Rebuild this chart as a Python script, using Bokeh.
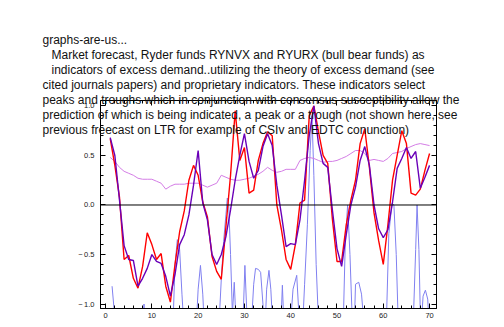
from bokeh.plotting import figure
from bokeh.models import (Range1d, LinearAxis, SingleIntervalTicker, Label, Span,
                          CustomJSTickFormatter, CustomLabelingPolicy)
from bokeh.embed import file_html
from bokeh.resources import INLINE

# ---------------- data ----------------
x = list(range(1, 71))

red = [0.67, 0.40, 0.08, -0.55, -0.51, -0.74, -0.84, -0.62, -0.28, -0.40,
       -0.55, -0.49, -0.82, -0.98, -0.60, -0.27, -0.06, 0.25, 0.40, 0.30,
       0.03, -0.12, -0.52, -0.67, -0.75, -0.22, 0.30, 0.95, 0.45, 0.58,
       0.12, 0.15, 0.45, 0.62, 0.74, 0.70, 0.00, -0.25, -0.55, -0.65,
       -0.40, 0.02, 0.05, 0.90, 1.00, 0.74, 0.50, 0.42, -0.14, -0.57,
       -0.57, -0.20, 0.05, 0.25, 0.62, 0.77, 0.38, -0.08, -0.36, -0.60,
       -0.20, 0.25, 0.50, 0.75, 0.62, 0.12, 0.10, 0.16, 0.35, 0.52]

purple = [0.68, 0.50, 0.05, -0.41, -0.55, -0.56, -0.82, -0.74, -0.64, -0.50,
          -0.57, -0.59, -0.72, -0.92, -0.70, -0.40, -0.30, -0.10, 0.20, 0.55,
          0.02, -0.15, -0.50, -0.60, -0.50, -0.32, -0.05, 0.25, 0.50, 0.72,
          0.44, 0.27, 0.35, 0.59, 0.72, 0.60, 0.20, -0.10, -0.42, -0.39,
          -0.40, -0.15, 0.25, 0.70, 1.00, 0.62, 0.42, 0.38, -0.05, -0.44,
          -0.62, -0.30, 0.00, 0.18, 0.45, 0.59, 0.40, 0.00, -0.24, -0.33,
          -0.25, 0.03, 0.37, 0.47, 0.58, 0.47, 0.54, 0.17, 0.28, 0.40]

orchid = [0.48, 0.44, 0.38, 0.34, 0.32, 0.30, 0.27, 0.26, 0.26, 0.26,
          0.24, 0.22, 0.16, 0.19, 0.21, 0.21, 0.21, 0.22, 0.22, 0.22,
          0.20, 0.18, 0.20, 0.22, 0.30, 0.28, 0.26, 0.25, 0.25, 0.26,
          0.27, 0.29, 0.31, 0.34, 0.38, 0.35, 0.33, 0.34, 0.36, 0.36,
          0.36, 0.45, 0.47, 0.48, 0.47, 0.45, 0.43, 0.44, 0.44, 0.45,
          0.47, 0.49, 0.52, 0.55, 0.55, 0.52, 0.45, 0.46, 0.45, 0.44,
          0.47, 0.52, 0.53, 0.54, 0.57, 0.59, 0.61, 0.62, 0.61, 0.60]

blue_x = [1.4, 2.3, 7.9, 8.3, 8.7, 14.5, 15.0, 15.5, 16.0, 16.5, 17.0,
          19.5, 20.0, 20.5, 21.0, 21.4, 24.4, 25.0, 25.5, 26.0, 26.3, 26.6,
          27.0, 27.4, 27.8, 28.3, 29.6, 30.1, 30.7, 31.4, 32.0, 32.4, 33.0,
          33.5, 34.0, 34.4, 34.8, 35.3, 35.7, 36.2, 37.8, 38.2, 38.6, 39.8,
          40.5, 41.3, 42.0, 42.5, 43.0, 43.6, 44.2, 44.6, 45.0, 45.5, 46.1,
          51.3, 51.8, 52.3, 52.8, 53.4, 53.7, 54.0, 54.7, 55.3, 56.0, 60.6,
          61.2, 61.9, 62.3, 62.8, 63.3, 66.4, 67.0, 67.3, 67.7, 68.1, 68.6,
          69.1, 69.6, 70.0]
blue_y = [-0.82, -1.30, -1.30, -1.00, -1.30, -1.30, -0.60, -0.35, -0.45, -0.90, -1.30,
          -1.30, -0.85, -0.61, -0.90, -1.30, -1.30, -0.75, -0.37, -0.10, 0.07, 0.00,
          -0.50, -1.10, -0.78, -1.30, -1.30, -0.61, -1.30, -1.30, -0.80, -0.64, -0.65,
          -0.68, -1.00, -1.30, -0.85, -0.66, -0.85, -1.30, -1.30, -0.81, -1.30, -1.30,
          -0.85, -0.71, -1.30, -1.30, -0.80, -0.20, 0.55, 0.90, 0.30, -0.60, -1.30,
          -1.30, -0.36, 0.00, -0.50, -1.30, -1.30, -0.80, -0.78, -0.90, -1.30, -1.30,
          -0.29, 0.02, 0.00, -0.50, -1.30, -1.30, -0.45, 0.00, -0.45, -1.30, -0.92,
          -0.86, -0.95, -1.30]

title_lines = [
    "graphs-are-us...",
    "Market forecast, Ryder funds RYNVX and RYURX (bull bear funds) as",
    "indicators of excess demand..utilizing the theory of excess demand (see",
    "cited journals papers) and proprietary indicators. These indicators select",
    "peaks and troughs which in conjunction with consensus susceptibility allow the",
    "prediction of which is being indicated, a peak or a trough (not shown here, see",
    "previous freecast on LTR for example of CSIv and EDTC conunction)",
]
title_indent = [0, 1, 1, 0, 0, 0, 0]

W, H = 504, 327

# ---------------- main plot ----------------
p = figure(width=W, height=H, output_backend="svg", toolbar_location=None,
           x_range=Range1d(-1.1, 71.5), y_range=Range1d(-1.045, 1.055),
           min_border_left=100, min_border_right=68, min_border_top=100,
           min_border_bottom=19)
p.background_fill_color = "white"
p.border_fill_color = "white"
p.outline_line_color = "black"
p.outline_line_width = 1
p.xgrid.visible = False
p.ygrid.visible = False

p.add_layout(Span(location=0, dimension="width", line_color="black", line_width=1))

p.line(blue_x, blue_y, line_color="#8080F0", line_width=1)
p.line(x, orchid, line_color="#D47DE6", line_width=1)
p.line(x, red, line_color="#FF0000", line_width=1.4)
p.line(x, purple, line_color="#6A00B8", line_width=1.4)

fmt_y = CustomJSTickFormatter(code="""
const s = Math.abs(tick).toFixed(1);
return tick < 0 ? "\u2212\u2009" + s : s;
""")
no_labels = CustomLabelingPolicy(code="""
for (const i of indices) { indices.unset(i) }
return indices
""")


def style_axis(ax):
    ax.axis_line_color = "black"
    ax.major_tick_in = 5
    ax.major_tick_out = 0
    ax.minor_tick_in = 3
    ax.minor_tick_out = 0
    ax.major_tick_line_color = "black"
    ax.minor_tick_line_color = "black"
    ax.major_label_text_font = "Liberation Sans"
    ax.major_label_text_font_size = "7.5px"
    ax.major_label_text_color = "#1a1a1a"


p.xaxis.ticker = SingleIntervalTicker(interval=10, num_minor_ticks=5)
p.yaxis.ticker = SingleIntervalTicker(interval=0.5, num_minor_ticks=5)
p.yaxis.formatter = fmt_y
style_axis(p.xaxis[0])
style_axis(p.yaxis[0])
p.xaxis.major_label_standoff = 4
p.yaxis.major_label_standoff = 6

top = LinearAxis(ticker=SingleIntervalTicker(interval=10, num_minor_ticks=5),
                 major_label_policy=no_labels)
right = LinearAxis(ticker=SingleIntervalTicker(interval=0.5, num_minor_ticks=5),
                   major_label_policy=no_labels)
style_axis(top)
style_axis(right)
p.add_layout(top, "above")
p.add_layout(right, "right")

# ---------------- transparent overlay carrying the heading text ----------------
ov = figure(width=W, height=H, output_backend="svg", toolbar_location=None,
            x_range=Range1d(0, W), y_range=Range1d(H, 0),
            x_axis_location=None, y_axis_location=None, min_border=0)
ov.grid.visible = False
ov.outline_line_color = None
ov.background_fill_alpha = 0
ov.border_fill_alpha = 0
ov.margin = (-H, 0, 0, 0)
for i, line in enumerate(title_lines):
    ov.add_layout(Label(x=42 + 9 * title_indent[i], y=39 + 15 * i,
                        text=line, text_font="Liberation Sans",
                        text_font_size="12px", text_color="#111111",
                        text_baseline="alphabetic", text_align="left"))

open("out.html", "w").write(file_html([p, ov], INLINE))
